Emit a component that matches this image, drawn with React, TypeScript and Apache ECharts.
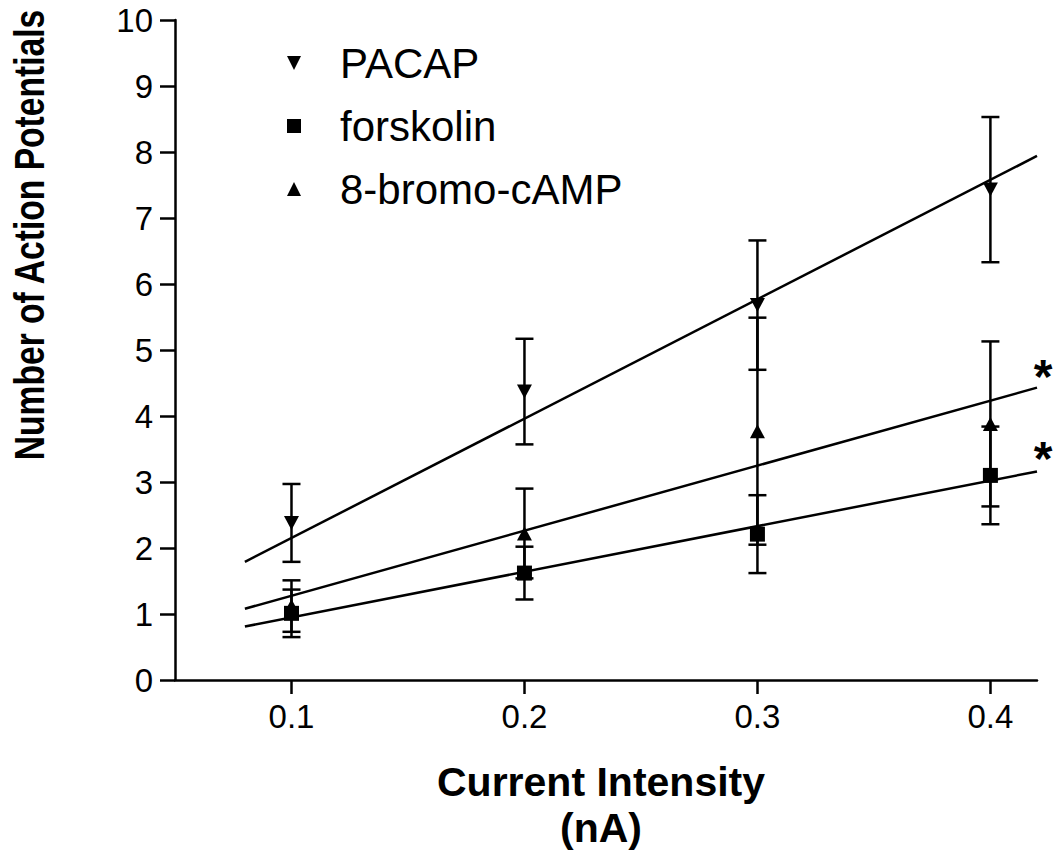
import React, { useEffect, useRef } from "react";
import * as echarts from "echarts";

const currents = [0.1, 0.2, 0.3, 0.4];
const xTicks = [0.1, 0.2, 0.3, 0.4];
const pacapMean = [2.38, 4.37, 5.68, 7.43];
const pacapErr = [0.59, 0.8, 0.98, 1.1];
const forskolinMean = [1.01, 1.62, 2.21, 3.1];
const forskolinErr = [0.36, 0.4, 0.59, 0.74];
const bromoMean = [1.12, 2.22, 3.77, 3.88];
const bromoErr = [0.39, 0.68, 1.72, 1.25];
const pacapFit = [[0.08, 1.79], [0.42, 7.94]];
const bromoFit = [[0.08, 1.08], [0.42, 4.43]];
const forskolinFit = [[0.08, 0.81], [0.42, 3.16]];
const starPoints = [[0.4226, 4.6], [0.4226, 3.35]];

const FONT = "'Liberation Sans', Arial, Helvetica, sans-serif";
const DOWN_TRI = "path://M0,0L10,0L5,10Z";

function errData(mean: number[], err: number[]) {
  return currents.map((x, i) => [x, mean[i] - err[i], mean[i] + err[i]]);
}

function errSeries(name: string, mean: number[], err: number[]) {
  return {
    type: "custom",
    name: name + " err",
    data: errData(mean, err),
    z: 2,
    silent: true,
    renderItem: (params: any, api: any) => {
      const x = api.value(0);
      const lo = api.coord([x, api.value(1)]);
      const hi = api.coord([x, api.value(2)]);
      const hw = 9;
      const style = { stroke: "#000", lineWidth: 2.5 };
      return {
        type: "group",
        children: [
          { type: "line", shape: { x1: lo[0], y1: lo[1], x2: hi[0], y2: hi[1] }, style },
          { type: "line", shape: { x1: hi[0] - hw, y1: hi[1], x2: hi[0] + hw, y2: hi[1] }, style },
          { type: "line", shape: { x1: lo[0] - hw, y1: lo[1], x2: lo[0] + hw, y2: lo[1] }, style },
        ],
      };
    },
  };
}

function fitSeries(name: string, data: number[][]) {
  return {
    type: "line",
    name,
    data,
    symbol: "none",
    z: 1,
    silent: true,
    lineStyle: { color: "#000", width: 2.5 },
  };
}

function pointSeries(name: string, mean: number[], symbol: string, size: number[]) {
  return {
    type: "scatter",
    name,
    data: currents.map((x, i) => [x, mean[i]]),
    symbol,
    symbolSize: size,
    z: 5,
    itemStyle: { color: "#000", opacity: 1 },
  };
}

export default function App() {
  const ref = useRef<HTMLDivElement>(null);
  useEffect(() => {
    if (!ref.current) return;
    const chart = echarts.init(ref.current, null, { renderer: "svg" });
    chart.setOption({
      animation: false,
      backgroundColor: "#fff",
      grid: { left: 175, right: 19, top: 20, bottom: 172 },
      legend: {
        orient: "vertical",
        left: 282,
        top: 37,
        itemWidth: 14,
        itemHeight: 14,
        itemGap: 21,
        data: ["PACAP", "forskolin", "8-bromo-cAMP"],
        itemStyle: { opacity: 1 },
        textStyle: {
          fontSize: 42,
          fontFamily: FONT,
          color: "#000",
          lineHeight: 40,
          padding: [0, 0, 0, 34],
        },
      },
      xAxis: {
        type: "value",
        min: 0.05,
        max: 0.42,
        name: "Current Intensity\n(nA)",
        nameLocation: "middle",
        nameGap: 79,
        nameTextStyle: {
          fontSize: 41,
          fontWeight: "bold",
          fontFamily: FONT,
          color: "#000",
          lineHeight: 46,
          padding: [0, 10, 0, 0],
        },
        splitLine: { show: false },
        axisLine: { lineStyle: { color: "#000", width: 2.5 } },
        axisTick: {
          show: true,
          length: 14,
          lineStyle: { color: "#000", width: 2.5 },
          customValues: xTicks,
        },
        axisLabel: {
          customValues: xTicks,
          fontSize: 33,
          fontFamily: FONT,
          color: "#000",
          margin: 20,
          formatter: (v: number) => v.toFixed(1),
        },
      },
      yAxis: {
        type: "value",
        min: 0,
        max: 10,
        interval: 1,
        splitLine: { show: false },
        axisLine: { show: true, lineStyle: { color: "#000", width: 2.5 } },
        axisTick: { show: true, length: 15, lineStyle: { color: "#000", width: 2.5 } },
        axisLabel: { fontSize: 33, fontFamily: FONT, color: "#000", margin: 22 },
      },
      graphic: [
        {
          type: "text",
          x: 30,
          y: 235,
          rotation: Math.PI / 2,
          scaleX: 0.8,
          style: {
            text: "Number of Action Potentials",
            fontSize: 42,
            fontWeight: "bold",
            fontFamily: FONT,
            fill: "#000",
            textAlign: "center",
            textVerticalAlign: "middle",
          },
        },
      ],
      series: [
        fitSeries("PACAP fit", pacapFit),
        fitSeries("8-bromo-cAMP fit", bromoFit),
        fitSeries("forskolin fit", forskolinFit),
        errSeries("PACAP", pacapMean, pacapErr),
        errSeries("8-bromo-cAMP", bromoMean, bromoErr),
        errSeries("forskolin", forskolinMean, forskolinErr),
        pointSeries("PACAP", pacapMean, DOWN_TRI, [15, 14]),
        pointSeries("8-bromo-cAMP", bromoMean, "triangle", [15, 14]),
        pointSeries("forskolin", forskolinMean, "rect", [15, 15]),
        {
          type: "scatter",
          name: "significance",
          data: starPoints,
          clip: false,
          silent: true,
          symbol: "circle",
          symbolSize: 1,
          z: 6,
          itemStyle: { color: "rgba(0,0,0,0)", opacity: 1 },
          label: {
            show: true,
            position: "inside",
            formatter: "*",
            fontSize: 48,
            fontWeight: "bold",
            color: "#000",
            opacity: 1,
            fontFamily: FONT,
          },
        },
      ],
    });
    return () => chart.dispose();
  }, []);
  return (
    <div
      ref={ref}
      style={{ position: "fixed", left: 0, top: 0, width: 1056, height: 856, background: "#fff" }}
    />
  );
}
